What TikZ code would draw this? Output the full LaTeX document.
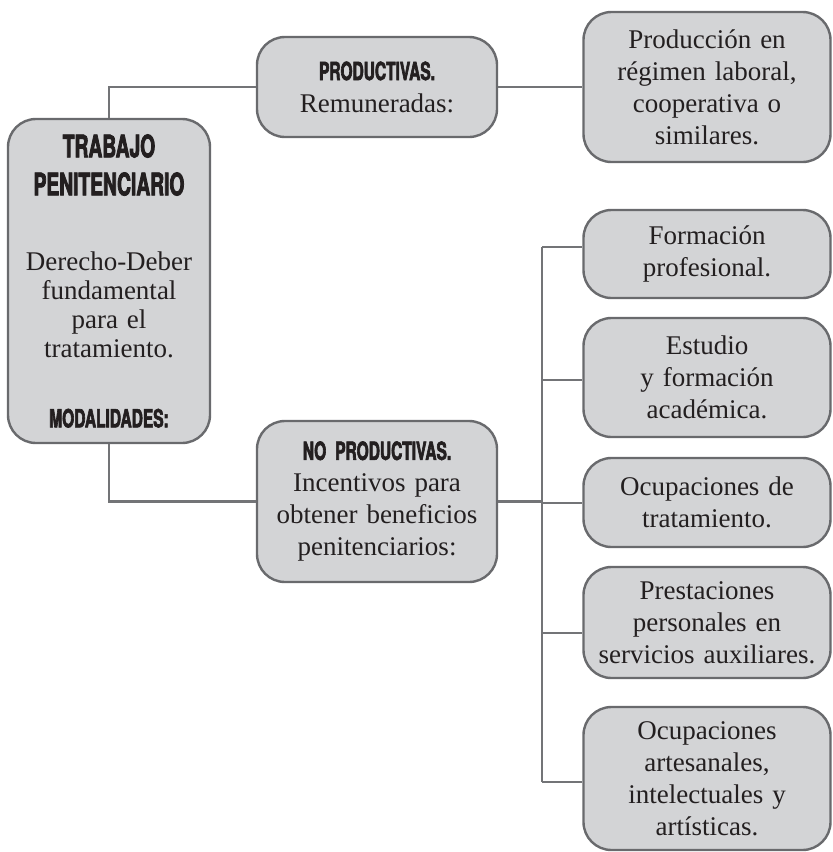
\documentclass[tikz,border=0pt]{standalone}
\usepackage{fontspec}
\setmainfont{Liberation Serif}
\newfontfamily\hfont[FakeStretch=0.62, BoldFeatures={FakeBold=2.5}]{TeX Gyre Heros}
\definecolor{boxfill}{RGB}{211,212,214}
\definecolor{boxdraw}{RGB}{105,106,109}
\definecolor{linecol}{RGB}{115,116,119}
\definecolor{txt}{RGB}{35,31,32}
\newcommand\hA{\hfont\bfseries\fontsize{31}{29}\selectfont}
\newcommand\hB{\hfont\bfseries\fontsize{25}{32}\selectfont}
\begin{document}
\begin{tikzpicture}[x=1pt,y=-1pt,
  box/.style={draw=boxdraw, fill=boxfill, line width=2.4pt, rounded corners=28pt,
    inner sep=0pt, align=center, text=txt},
  conn/.style={draw=linecol, line width=2.2pt},
  rbox/.style={box, minimum width=247pt, text width=240pt, font=\fontsize{27}{32}\selectfont}]
\useasboundingbox (0,0) rectangle (833,852);

\node[box, minimum width=202pt, minimum height=324pt, text width=195pt,
  font=\fontsize{27}{29}\selectfont] (main) at (109,281)
  {{\hA TRABAJO}\\[9pt]{\hA PENITENCIARIO}\\[46pt]Derecho-Deber\\fundamental\\para el\\tratamiento.\\[41pt]{\hB MODALIDADES:}};

\node[box, minimum width=240pt, minimum height=100pt, text width=232pt,
  font=\fontsize{27}{32}\selectfont] (prod) at (377,87)
  {{\hB PRODUCTIVAS.}\\Remuneradas:};

\node[box, minimum width=240pt, minimum height=161pt, text width=232pt,
  font=\fontsize{27}{32}\selectfont] (noprod) at (377,501.5)
  {{\hB NO PRODUCTIVAS.}\\Incentivos para\\obtener beneficios\\penitenciarios:};

\node[rbox, minimum height=150pt] (r0) at (707,87)
  {Producción en\\régimen laboral,\\cooperativa o\\similares.};
\node[rbox, minimum height=88pt] (r1) at (707,254)
  {Formación\\profesional.};
\node[rbox, minimum height=119pt] (r2) at (707,377.5)
  {Estudio\\y formación\\académica.};
\node[rbox, minimum height=89pt] (r3) at (707,502.5)
  {Ocupaciones de\\tratamiento.};
\node[rbox, minimum height=111pt] (r4) at (707,622.5)
  {Prestaciones\\personales en\\servicios auxiliares.};
\node[rbox, minimum height=143pt] (r5) at (707,778.5)
  {Ocupaciones\\artesanales,\\intelectuales y\\artísticas.};

\coordinate (b1) at (542,247);
\coordinate (b2) at (542,380);
\coordinate (b3) at (542,503);
\coordinate (b4) at (542,633);
\coordinate (b5) at (542,782);

\draw[conn] (main.north) |- (prod.west);
\draw[conn] (prod.east) -- (r0.west);
\draw[conn] (main.south) |- (noprod.west);
\draw[conn] (noprod.east) -- (noprod.east -| b1);
\draw[conn] (b1) -- (b5);
\draw[conn] (b1) -- (b1 -| r1.west);
\draw[conn] (b2) -- (b2 -| r2.west);
\draw[conn] (b3) -- (b3 -| r3.west);
\draw[conn] (b4) -- (b4 -| r4.west);
\draw[conn] (b5) -- (b5 -| r5.west);
\end{tikzpicture}
\end{document}
